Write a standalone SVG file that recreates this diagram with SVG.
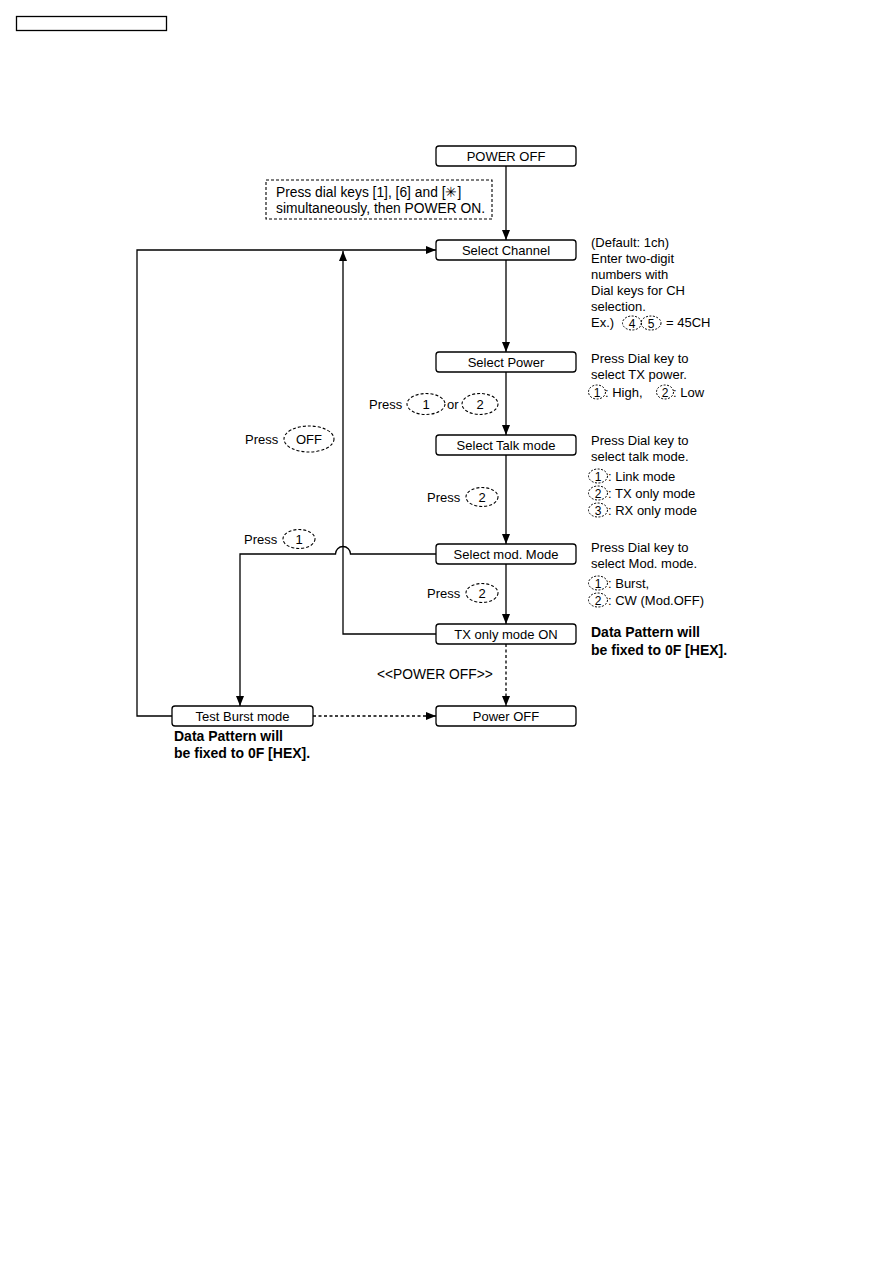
<svg xmlns="http://www.w3.org/2000/svg" width="893" height="1263" viewBox="0 0 893 1263">
<defs>
<style>
text{font-family:"Liberation Sans",Arial,sans-serif;font-size:13px;fill:#000}
.b{font-weight:bold;font-size:14px}
.c{text-anchor:middle}
.s{font-size:12px}
.m{font-size:13.8px}
.box{fill:#fff;stroke:#000;stroke-width:1.3}
.ln{fill:none;stroke:#000;stroke-width:1.3}
.dl{fill:none;stroke:#000;stroke-width:1.3;stroke-dasharray:3,2.5}
.de{fill:none;stroke:#000;stroke-width:1.1;stroke-dasharray:3,2}
.dk{fill:none;stroke:#000;stroke-width:1;stroke-dasharray:2,1.5}
</style>
<marker id="ah" viewBox="0 0 10 8" refX="10" refY="4" markerWidth="10" markerHeight="8" markerUnits="userSpaceOnUse" orient="auto">
<path d="M0,0 L10,4 L0,8 Z" fill="#000"/>
</marker>
</defs>
<rect width="893" height="1263" fill="#fff"/>
<rect x="16.5" y="16.5" width="150" height="14" fill="none" stroke="#000" stroke-width="1.3"/>

<g id="connectors">
<path class="ln" d="M506,166 V240" marker-end="url(#ah)"/>
<path class="ln" d="M506,260 V352" marker-end="url(#ah)"/>
<path class="ln" d="M506,372 V435" marker-end="url(#ah)"/>
<path class="ln" d="M506,455 V544" marker-end="url(#ah)"/>
<path class="ln" d="M506,564 V624" marker-end="url(#ah)"/>
<path class="dl" d="M506,644 V706" marker-end="url(#ah)"/>
<path class="dl" d="M313,716 H436" marker-end="url(#ah)"/>
<path class="ln" d="M172,716 H137 V250 H436" marker-end="url(#ah)"/>
<path class="ln" d="M436,634 H343 V251" marker-end="url(#ah)"/>
<path class="ln" d="M436,554 H350.5 A7.5,7.5 0 0 0 335.5,554 H240 V706" marker-end="url(#ah)"/>
</g>

<g id="note-start">
<rect x="266" y="180" width="226" height="39" class="de"/>
<text class="m" x="276" y="197">Press dial keys [1], [6] and [✳]</text>
<text class="m" x="276" y="213">simultaneously, then POWER ON.</text>
</g>

<g id="n-poweroff-top"><rect class="box" x="436" y="146" width="140" height="20" rx="3"/><text class="c" x="506" y="160.5">POWER OFF</text></g>
<g id="n-channel"><rect class="box" x="436" y="240" width="140" height="20" rx="3"/><text class="c" x="506" y="254.5">Select Channel</text></g>
<g id="n-power"><rect class="box" x="436" y="352" width="140" height="20" rx="3"/><text class="c" x="506" y="366.5">Select Power</text></g>
<g id="n-talk"><rect class="box" x="436" y="435" width="140" height="20" rx="3"/><text class="c" x="506" y="449.5">Select Talk mode</text></g>
<g id="n-mod"><rect class="box" x="436" y="544" width="140" height="20" rx="3"/><text class="c" x="506" y="558.5">Select mod. Mode</text></g>
<g id="n-txon"><rect class="box" x="436" y="624" width="140" height="20" rx="3"/><text class="c" x="506" y="638.5">TX only mode ON</text></g>
<g id="n-poweroff"><rect class="box" x="436" y="706" width="140" height="20" rx="3"/><text class="c" x="506" y="720.5">Power OFF</text></g>
<g id="n-burst"><rect class="box" x="172" y="706" width="141" height="20" rx="3"/><text class="c" x="242.5" y="720.5">Test Burst mode</text></g>

<g id="note-channel">
<text x="591" y="247">(Default: 1ch)</text>
<text x="591" y="263">Enter two-digit</text>
<text x="591" y="279">numbers with</text>
<text x="591" y="295">Dial keys for CH</text>
<text x="591" y="311">selection.</text>
<text x="591" y="327">Ex.)</text>
<ellipse class="dk" cx="632" cy="323" rx="9.5" ry="7"/><text class="c s" x="632" y="327.5">4</text>
<ellipse class="dk" cx="651" cy="323" rx="10" ry="7"/><text class="c s" x="651" y="327.5">5</text>
<text x="666" y="327">= 45CH</text>
</g>

<g id="note-power">
<text x="591" y="363">Press Dial key to</text>
<text x="591" y="379">select TX power.</text>
<ellipse class="dk" cx="597" cy="392" rx="8.5" ry="7"/><text class="c s" x="597" y="396.5">1</text>
<text x="605" y="396.5">: High,</text>
<ellipse class="dk" cx="665" cy="392" rx="8.5" ry="7"/><text class="c s" x="665" y="396.5">2</text>
<text x="673" y="396.5">: Low</text>
</g>

<g id="note-talk">
<text x="591" y="445">Press Dial key to</text>
<text x="591" y="461">select talk mode.</text>
<ellipse class="dk" cx="598" cy="476" rx="9.5" ry="7"/><text class="c s" x="598" y="480.5">1</text>
<text x="608" y="480.5">: Link mode</text>
<ellipse class="dk" cx="598" cy="493" rx="9.5" ry="7"/><text class="c s" x="598" y="497.5">2</text>
<text x="608" y="497.5">: TX only mode</text>
<ellipse class="dk" cx="598" cy="510" rx="9.5" ry="7"/><text class="c s" x="598" y="514.5">3</text>
<text x="608" y="514.5">: RX only mode</text>
</g>

<g id="note-mod">
<text x="591" y="552">Press Dial key to</text>
<text x="591" y="568">select Mod. mode.</text>
<ellipse class="dk" cx="598" cy="583" rx="9.5" ry="7"/><text class="c s" x="598" y="587.5">1</text>
<text x="608" y="587.5">: Burst,</text>
<ellipse class="dk" cx="598" cy="600" rx="9.5" ry="7"/><text class="c s" x="598" y="604.5">2</text>
<text x="608" y="604.5">: CW (Mod.OFF)</text>
</g>

<g id="note-txon">
<text class="b" x="591" y="637">Data Pattern will</text>
<text class="b" x="591" y="655">be fixed to 0F [HEX].</text>
</g>

<g id="note-burst">
<text class="b" x="174" y="741">Data Pattern will</text>
<text class="b" x="174" y="758">be fixed to 0F [HEX].</text>
</g>

<g id="labels">
<text x="369" y="408.5">Press</text>
<ellipse class="de" cx="426" cy="404" rx="19" ry="10.5"/><text class="c" x="426" y="408.5">1</text>
<text x="447" y="408.5">or</text>
<ellipse class="de" cx="480" cy="404" rx="18" ry="10.5"/><text class="c" x="480" y="408.5">2</text>

<text x="245" y="443.5">Press</text>
<ellipse class="de" cx="309" cy="439" rx="25" ry="13"/><text class="c" x="309" y="443.5">OFF</text>

<text x="427" y="501.5">Press</text>
<ellipse class="de" cx="482" cy="497" rx="16" ry="9.5"/><text class="c" x="482" y="501.5">2</text>

<text x="244" y="543.5">Press</text>
<ellipse class="de" cx="299" cy="539" rx="16" ry="9.5"/><text class="c" x="299" y="543.5">1</text>

<text x="427" y="597.5">Press</text>
<ellipse class="de" cx="482" cy="593" rx="16" ry="9.5"/><text class="c" x="482" y="597.5">2</text>

<text class="m" x="377" y="679">&lt;&lt;POWER OFF&gt;&gt;</text>
</g>
</svg>
